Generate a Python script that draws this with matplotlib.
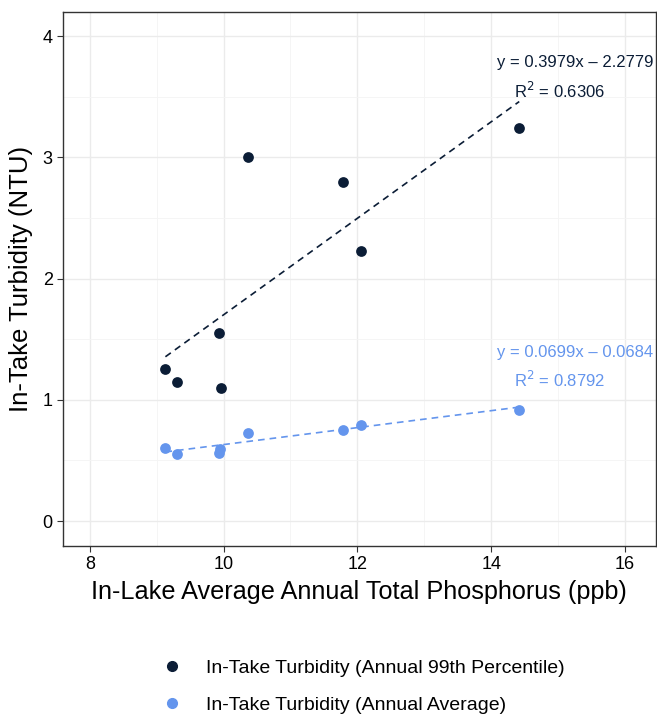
import numpy as np
import matplotlib.pyplot as plt
from matplotlib.lines import Line2D

plt.rcParams['font.family'] = ['Liberation Sans', 'DejaVu Sans']

# data
tp = [9.13, 9.30, 9.93, 9.96, 10.36, 11.79, 12.06, 14.42]
p99 = [1.25, 1.15, 1.55, 1.10, 3.00, 2.80, 2.23, 3.24]
tp_avg = [9.13, 9.30, 9.93, 9.95, 10.36, 11.79, 12.06, 14.42]
avg = [0.60, 0.55, 0.56, 0.59, 0.73, 0.75, 0.79, 0.915]

fit_p99 = [0.3979, -2.2779, 0.6306]
fit_avg = [0.0699, -0.0684, 0.8792]

c_dark = '#0b1d36'
c_blue = '#6495ed'

fig = plt.figure(figsize=(6.57, 7.17), dpi=100)
ax = fig.add_axes([0.096, 0.2385, 0.902, 0.745])

for x, y, fit, c in [(tp, p99, fit_p99, c_dark), (tp_avg, avg, fit_avg, c_blue)]:
    ax.scatter(x, y, s=60, color=c, zorder=3, linewidths=0)
    xx = np.array([min(x), max(x)])
    ax.plot(xx, fit[0] * xx + fit[1], '--', color=c, lw=1.2, dashes=(4, 3), zorder=2)

ax.text(15.25, 3.78, 'y = 0.3979x – 2.2779', color=c_dark, fontsize=12, ha='center', va='center')
ax.text(15.03, 3.55, 'R$^2$ = 0.6306', color=c_dark, fontsize=12, ha='center', va='center')
ax.text(15.25, 1.39, 'y = 0.0699x – 0.0684', color=c_blue, fontsize=12, ha='center', va='center')
ax.text(15.03, 1.16, 'R$^2$ = 0.8792', color=c_blue, fontsize=12, ha='center', va='center')

ax.set_xlim(7.6, 16.46)
ax.set_ylim(-0.206, 4.2)
ax.set_xticks([8, 10, 12, 14, 16])
ax.set_yticks([0, 1, 2, 3, 4])
ax.set_xticks([9, 11, 13, 15], minor=True)
ax.set_yticks([0.5, 1.5, 2.5, 3.5], minor=True)
ax.grid(True, which='major', color='#ebebeb', lw=1.0)
ax.grid(True, which='minor', color='#f4f4f4', lw=0.6)
ax.set_axisbelow(True)
ax.tick_params(which='minor', length=0)
ax.tick_params(which='major', labelsize=13, color='#333333', length=4)
for s in ax.spines.values():
    s.set_color('#333333')
    s.set_linewidth(1.0)

ax.set_xlabel('In-Lake Average Annual Total Phosphorus (ppb)', fontsize=18.2, labelpad=5)
ax.set_ylabel('In-Take Turbidity (NTU)', fontsize=18.5, labelpad=7)

handles = [Line2D([], [], marker='o', ls='', color=c_dark, markersize=7),
           Line2D([], [], marker='o', ls='', color=c_blue, markersize=7)]
labels = ['In-Take Turbidity (Annual 99th Percentile)', 'In-Take Turbidity (Annual Average)']
fig.legend(handles, labels, loc='center', bbox_to_anchor=(0.546, 0.042), frameon=False,
           fontsize=14, handletextpad=0.75, labelspacing=1.0)

fig.savefig('out.png', dpi=100)
